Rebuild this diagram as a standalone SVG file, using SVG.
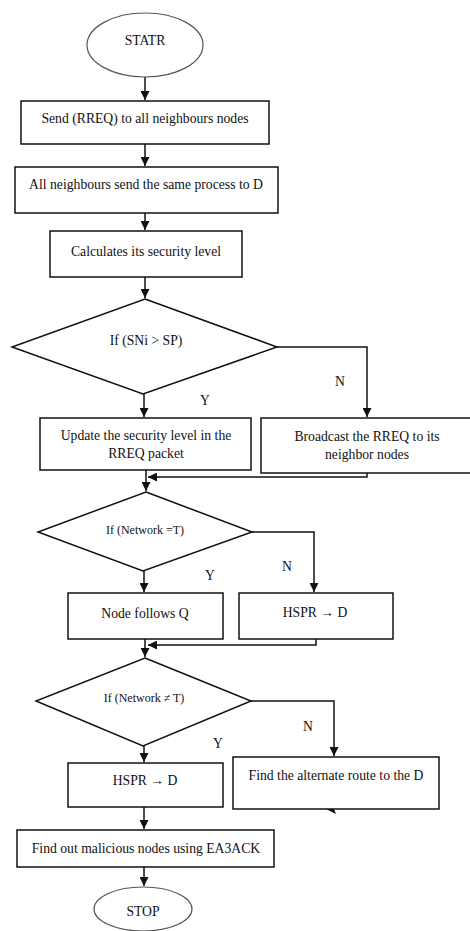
<svg xmlns="http://www.w3.org/2000/svg" width="470" height="931" viewBox="0 0 470 931">
<style>
.box{fill:#fff;stroke:#111;stroke-width:1.5}
.term{fill:#fff;stroke:#555;stroke-width:1.2}
.t{font-family:"Liberation Serif","Times New Roman","DejaVu Serif",serif;font-size:13.7px;fill:#111;text-anchor:middle}
.s{font-size:12px}
.c{fill:none;stroke:#111;stroke-width:1.5}
</style>
<defs>
<marker id="ah" viewBox="0 0 10 10" refX="10" refY="5" markerWidth="9" markerHeight="9" markerUnits="userSpaceOnUse" orient="auto">
<path d="M0,0 L10,5 L0,10 z" fill="#111"/>
</marker>
</defs>
<rect width="470" height="931" fill="#fff"/>
<g id="connectors">
<line class="c" x1="145" y1="77" x2="145" y2="100" marker-end="url(#ah)"/>
<line class="c" x1="145" y1="144" x2="145" y2="166" marker-end="url(#ah)"/>
<line class="c" x1="145" y1="213" x2="145" y2="230" marker-end="url(#ah)"/>
<line class="c" x1="145" y1="277" x2="145" y2="298" marker-end="url(#ah)"/>
<line class="c" x1="144" y1="394" x2="144" y2="417" marker-end="url(#ah)"/>
<polyline class="c" points="277,347 367,347 367,417" marker-end="url(#ah)"/>
<line class="c" x1="146" y1="470" x2="146" y2="491" marker-end="url(#ah)"/>
<polyline class="c" points="367,473 367,477 148,477" marker-end="url(#ah)"/>
<line class="c" x1="144" y1="571" x2="144" y2="592" marker-end="url(#ah)"/>
<polyline class="c" points="252,532 314,532 314,592" marker-end="url(#ah)"/>
<line class="c" x1="145" y1="639" x2="145" y2="657" marker-end="url(#ah)"/>
<polyline class="c" points="316,639 316,645 148,645" marker-end="url(#ah)"/>
<line class="c" x1="144" y1="746" x2="144" y2="762" marker-end="url(#ah)"/>
<polyline class="c" points="251,701 334,701 334,756" marker-end="url(#ah)"/>
<path d="M326,809 L336,804 L334,809 L336,814 z" fill="#111"/>
<line class="c" x1="144" y1="807" x2="144" y2="829" marker-end="url(#ah)"/>
<line class="c" x1="144" y1="867" x2="144" y2="886" marker-end="url(#ah)"/>
</g>
<g id="start">
<ellipse class="term" cx="145" cy="45" rx="58" ry="32"/>
<text class="t" x="145" y="45">STATR</text>
</g>
<g id="send">
<rect class="box" x="21" y="101" width="248" height="43"/>
<text class="t" x="145" y="123">Send (RREQ) to all neighbours nodes</text>
</g>
<g id="allsend">
<rect class="box" x="15" y="167" width="263" height="46"/>
<text class="t" x="146" y="189">All neighbours send the same process to D</text>
</g>
<g id="calc">
<rect class="box" x="50" y="231" width="192" height="46"/>
<text class="t" x="146" y="256">Calculates its security level</text>
</g>
<g id="dec1">
<polygon class="box" points="145,299 277,347 143,394 12,347"/>
<text class="t" x="146" y="345">If (SNi &gt; SP)</text>
</g>
<text class="t" x="205" y="405">Y</text>
<text class="t" x="340" y="386">N</text>
<g id="update">
<rect class="box" x="40" y="418" width="211" height="52"/>
<text class="t" x="146" y="440">Update the security level in the</text>
<text class="t" x="146" y="458">RREQ packet</text>
</g>
<g id="broadcast">
<rect class="box" x="261" y="418" width="212" height="55"/>
<text class="t" x="367" y="441">Broadcast the RREQ to its</text>
<text class="t" x="367" y="459">neighbor nodes</text>
</g>
<g id="dec2">
<polygon class="box" points="146,492 252,532 143,571 38,532"/>
<text class="t s" x="145" y="534">If (Network =T)</text>
</g>
<text class="t" x="210" y="580">Y</text>
<text class="t" x="287" y="571">N</text>
<g id="follows">
<rect class="box" x="68" y="593" width="155" height="46"/>
<text class="t" x="145" y="618">Node follows Q</text>
</g>
<g id="hspr1">
<rect class="box" x="239" y="593" width="154" height="46"/>
<text class="t" x="315" y="617">HSPR → D</text>
</g>
<g id="dec3">
<polygon class="box" points="145,658 251,701 143,746 36,701"/>
<text class="t s" x="144" y="702">If (Network ≠ T)</text>
</g>
<text class="t" x="218" y="748">Y</text>
<text class="t" x="308" y="731">N</text>
<g id="hspr2">
<rect class="box" x="68" y="763" width="155" height="44"/>
<text class="t" x="145" y="785">HSPR → D</text>
</g>
<g id="alternate">
<rect class="box" x="233" y="757" width="206" height="52"/>
<text class="t" x="336" y="780">Find the alternate route to the D</text>
</g>
<g id="malicious">
<rect class="box" x="17" y="830" width="257" height="37"/>
<text class="t" x="146" y="853">Find out malicious nodes using EA3ACK</text>
</g>
<g id="stop">
<ellipse class="term" cx="143" cy="909" rx="49" ry="22"/>
<text class="t" x="143" y="916">STOP</text>
</g>
</svg>
